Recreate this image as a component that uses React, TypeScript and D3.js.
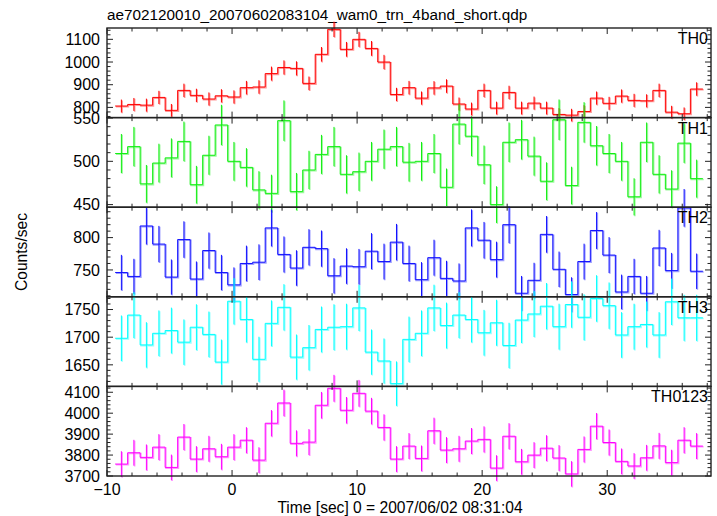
import React from 'react';
import * as d3 from 'd3';

// ---- data (1-s bins) ----
const binStart = -8.85; // centre time of first bin (s)
const binWidth = 1;
const th0 = [806, 813, 810, 844, 787, 875, 853, 837, 851, 846, 887, 890, 949, 976, 972, 906, 1034, 1144, 1056, 1100, 1060, 1000, 857, 887, 841, 886, 894, 815, 793, 875, 797, 866, 797, 819, 797, 769, 766, 782, 841, 818, 850, 831, 829, 875, 779, 772, 881];
const th1 = [509, 517, 474, 498, 504, 523, 473, 507, 542, 500, 493, 467, 463, 547, 465, 490, 508, 517, 485, 488, 500, 514, 517, 499, 500, 509, 470, 543, 529, 496, 450, 522, 525, 506, 477, 548, 472, 545, 518, 509, 500, 459, 522, 485, 468, 521, 480];
const th2 = [746, 740, 818, 790, 739, 797, 736, 780, 746, 727, 760, 762, 815, 774, 753, 785, 783, 741, 756, 755, 779, 763, 793, 760, 735, 769, 737, 733, 815, 796, 766, 820, 714, 734, 805, 751, 712, 763, 811, 773, 716, 740, 714, 784, 749, 846, 748];
const th3 = [1698, 1740, 1686, 1707, 1712, 1691, 1718, 1705, 1655, 1765, 1732, 1660, 1725, 1754, 1664, 1681, 1714, 1718, 1719, 1753, 1673, 1657, 1616, 1696, 1707, 1753, 1721, 1740, 1732, 1708, 1726, 1685, 1731, 1742, 1756, 1719, 1759, 1736, 1770, 1757, 1704, 1719, 1723, 1704, 1764, 1735, 1735];
const th0123 = [3757, 3811, 3789, 3838, 3741, 3886, 3781, 3830, 3792, 3838, 3871, 3776, 3952, 4049, 3856, 3862, 4038, 4119, 4014, 4095, 4010, 3932, 3781, 3843, 3784, 3916, 3824, 3830, 3867, 3875, 3738, 3890, 3768, 3800, 3833, 3786, 3710, 3827, 3938, 3860, 3770, 3748, 3787, 3844, 3764, 3871, 3843];

const panelNames = ['TH0', 'TH1', 'TH2', 'TH3', 'TH0123'];
const panelSeries = [th0, th1, th2, th3, th0123];
const panelColors = ['#ff0000', '#11ee11', '#1010ff', '#00ffff', '#ff00ff'];
const panelDomains: [number, number][] = [[755, 1150], [447, 550.5], [708.5, 847], [1611, 1773], [3700, 4128]];
const panelMajorTicks = [[800, 900, 1000, 1100], [450, 500, 550], [750, 800], [1650, 1700, 1750], [3700, 3800, 3900, 4000, 4100]];
const panelMinorStep = [20, 10, 10, 10, 20];
const xDomain: [number, number] = [-10, 38.3];
const xMajorTicks = [-10, 0, 10, 20, 30];
const xMinorStep = 2;

const titleText = 'ae702120010_20070602083104_wam0_trn_4band_short.qdp';
const xLabelText = 'Time [sec] 0 = 2007/06/02 08:31:04';
const yLabelText = 'Counts/sec';

// ---- layout ----
const W = 717, H = 516;
const left = 107, right = 711, top = 28, bottom = 476;
const nP = panelNames.length;
const pH = (bottom - top) / nP;
const font = '"Liberation Sans", Arial, Helvetica, sans-serif';

const fmt = (v: number) => (v < 0 ? '\u2212' + Math.abs(v) : String(v));

export default function App() {
  const x = d3.scaleLinear().domain(xDomain).range([left, right]);
  const minorX = d3.range(-10, xDomain[1], xMinorStep).filter((t) => t % 10 !== 0);

  return (
    <svg width={W} height={H} style={{ position: 'absolute', left: 0, top: 0, background: '#fff' }} fontFamily={font}>
      <rect x={0} y={0} width={W} height={H} fill="#fff" />
      <text x={107} y={20} fontSize={15.3} fill="#000">{titleText}</text>
      {panelNames.map((name, i) => {
        const y0 = top + i * pH;
        const y1 = y0 + pH;
        const y = d3.scaleLinear().domain(panelDomains[i]).range([y1, y0]);
        const vals = panelSeries[i];
        const color = panelColors[i];
        const pts: [number, number][] = [];
        vals.forEach((v, k) => {
          const c = binStart + k * binWidth;
          pts.push([c - binWidth / 2, v]);
          pts.push([c + binWidth / 2, v]);
        });
        const line = d3.line<[number, number]>().x((d) => x(d[0])).y((d) => y(d[1]));
        const stepD = line(pts) || '';
        const errD = vals
          .map((v, k) => {
            const c = binStart + k * binWidth;
            const e = Math.sqrt(v); // Poisson error, 1-s bins
            return `M${x(c)},${y(v - e)}V${y(v + e)}`;
          })
          .join('');
        const dom = panelDomains[i];
        const minorY = d3
          .range(Math.ceil(dom[0] / panelMinorStep[i]) * panelMinorStep[i], dom[1], panelMinorStep[i])
          .filter((t) => !panelMajorTicks[i].includes(t));
        return (
          <g key={name}>
            {/* data */}
            <g transform="translate(0.8,0.8)" opacity={0.4}>
              <path d={stepD} fill="none" stroke={color} strokeWidth={1.5} />
              <path d={errD} fill="none" stroke={color} strokeWidth={1.5} />
            </g>
            <path d={stepD} fill="none" stroke={color} strokeWidth={1} />
            <path d={errD} fill="none" stroke={color} strokeWidth={1} />
            {/* frame */}
            <rect x={left} y={y0} width={right - left} height={pH} fill="none" stroke="#222" strokeWidth={1.4} />
            {/* x ticks top & bottom */}
            {xMajorTicks.map((t) => (
              <g key={'xm' + t} stroke="#222" strokeWidth={1}>
                <line x1={x(t)} x2={x(t)} y1={y0} y2={y0 + 6} />
                <line x1={x(t)} x2={x(t)} y1={y1} y2={y1 - 6} />
              </g>
            ))}
            {minorX.map((t) => (
              <g key={'xn' + t} stroke="#222" strokeWidth={1}>
                <line x1={x(t)} x2={x(t)} y1={y0} y2={y0 + 3.5} />
                <line x1={x(t)} x2={x(t)} y1={y1} y2={y1 - 3.5} />
              </g>
            ))}
            {/* y ticks left & right */}
            {panelMajorTicks[i].map((t) => (
              <g key={'ym' + t}>
                <line x1={left} x2={left + 6} y1={y(t)} y2={y(t)} stroke="#222" />
                <line x1={right} x2={right - 6} y1={y(t)} y2={y(t)} stroke="#222" />
                <text x={100} y={y(t)} dy="0.36em" textAnchor="end" fontSize={16} fill="#000">{fmt(t)}</text>
              </g>
            ))}
            {minorY.map((t) => (
              <g key={'yn' + t} stroke="#222">
                <line x1={left} x2={left + 3.5} y1={y(t)} y2={y(t)} />
                <line x1={right} x2={right - 3.5} y1={y(t)} y2={y(t)} />
              </g>
            ))}
            <text x={708} y={y0 + 16} textAnchor="end" fontSize={16} fill="#000">{name}</text>
          </g>
        );
      })}
      {xMajorTicks.map((t) => (
        <text key={'xl' + t} x={x(t)} y={495} textAnchor="middle" fontSize={16} fill="#000">{fmt(t)}</text>
      ))}
      <text x={400} y={513} textAnchor="middle" fontSize={15.6} fill="#000">{xLabelText}</text>
      <text transform={`translate(27,${(top + bottom) / 2}) rotate(-90)`} textAnchor="middle" fontSize={15.6} fill="#000">{yLabelText}</text>
    </svg>
  );
}
